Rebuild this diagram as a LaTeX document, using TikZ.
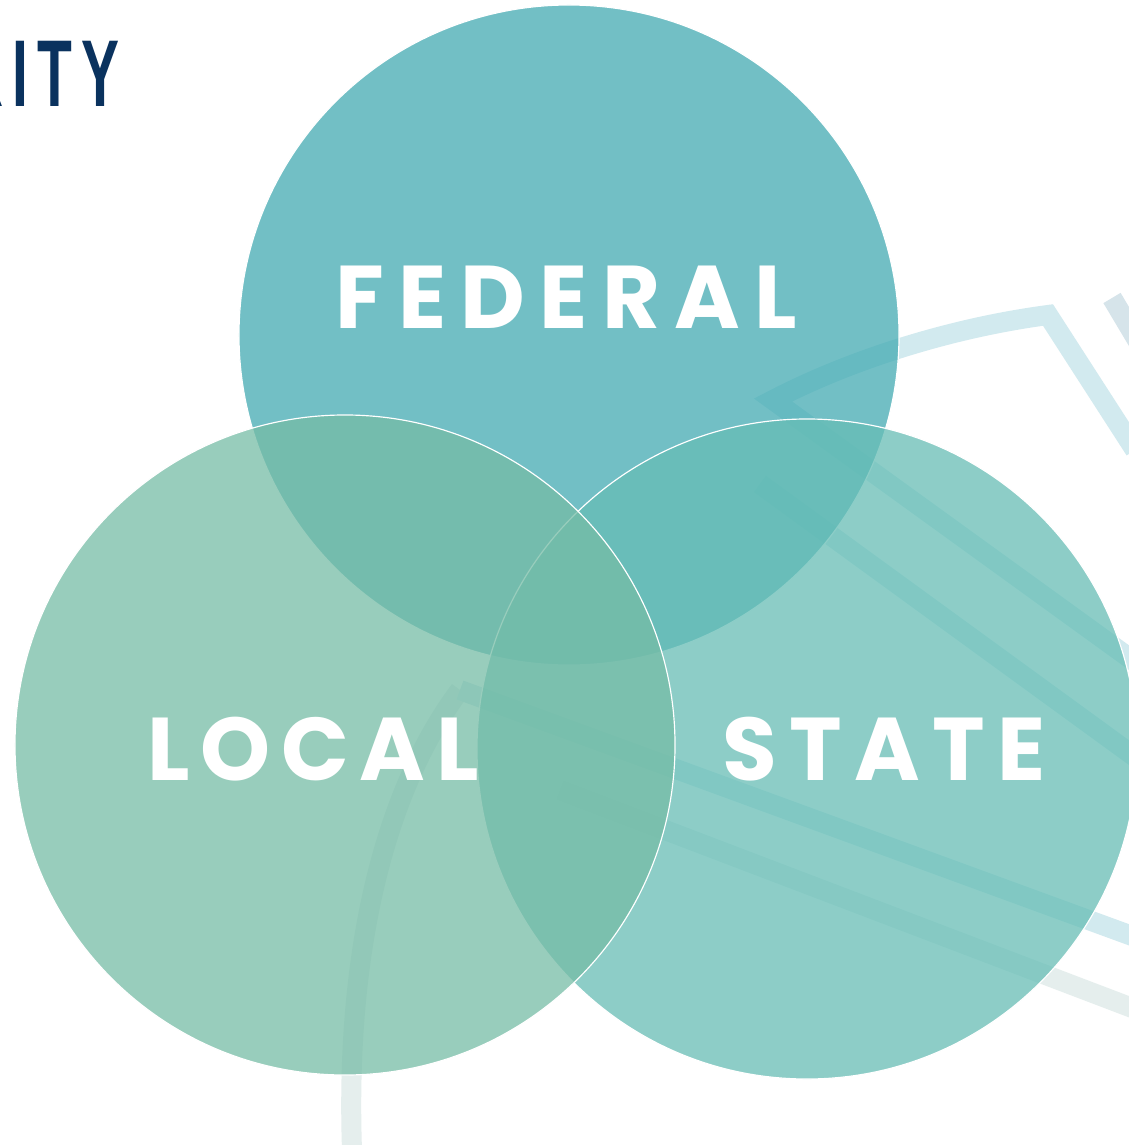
\documentclass[tikz,border=0pt]{standalone}
\usepackage{fontspec}
\usetikzlibrary{positioning}
\newfontfamily\venfont{Poppins}[LetterSpace=12]
\newfontfamily\headfont{Liberation Sans}[LetterSpace=16]
\definecolor{fedblue}{HTML}{42AAB2}
\definecolor{localgreen}{HTML}{76BCA6}
\definecolor{stateteal}{HTML}{66BDB5}
\definecolor{bandteal}{HTML}{D2EAEF}
\definecolor{bandgrey}{HTML}{E5EEED}
\definecolor{bandblue}{HTML}{D6E4EA}
\definecolor{navy}{HTML}{0A325E}

\begin{document}
\begin{tikzpicture}[
    x=0.03cm, y=-0.03cm,
    tier/.style={
        circle,
        draw=white, line width=1pt,
        fill opacity=0.745,
        minimum size=19.8cm,
        inner sep=0pt
    },
    tier_label/.style={
        text=white,
        font=\venfont\bfseries\fontsize{76}{80}\selectfont,
        anchor=base
    },
    band/.style={
        line width=0.6cm
    }
]

\useasboundingbox (0,0) rectangle (1129,1145);
\fill[white] (0,0) rectangle (1129,1145);
\clip (0,0) rectangle (1129,1145);

% faint logo strokes behind the circles
\draw[band, bandblue] (1112,298) -- (1140,345);
\draw[band, bandteal, line join=miter] (1135,450) -- (1048,315) .. controls (950,328) and (850,360) .. (773,400) -- (1135,662);
\draw[band, bandteal] (760,484) -- (1135,757);
\draw[band, bandgrey] (352,1150) .. controls (345,950) and (385,790) .. (460,690);
\draw[band, bandteal] (460,690) -- (1135,937);
\draw[band, bandgrey] (560,790) -- (1135,1009);

% the three circles
\node (federal) [tier, fill=fedblue] at (569,335) {};
\node (state) [tier, fill=stateteal] at (807,749) {};
\node (local) [tier, fill=localgreen] at (345,745) {};

\node (federal_label) [tier_label] at (566,328) {\addfontfeatures{LetterSpace=16}FEDERAL};
\node (local_label) [tier_label] at (313,780) {LOCAL};
\node (state_label) [tier_label] at (884,780) {\addfontfeatures{LetterSpace=14}STATE};

\node (header) [anchor=base east, text=navy, inner sep=0pt,
    font=\headfont\bfseries\fontsize{81}{85}\selectfont] at (120,106) {\scalebox{0.6}[1]{RITY}};

\end{tikzpicture}
\end{document}
